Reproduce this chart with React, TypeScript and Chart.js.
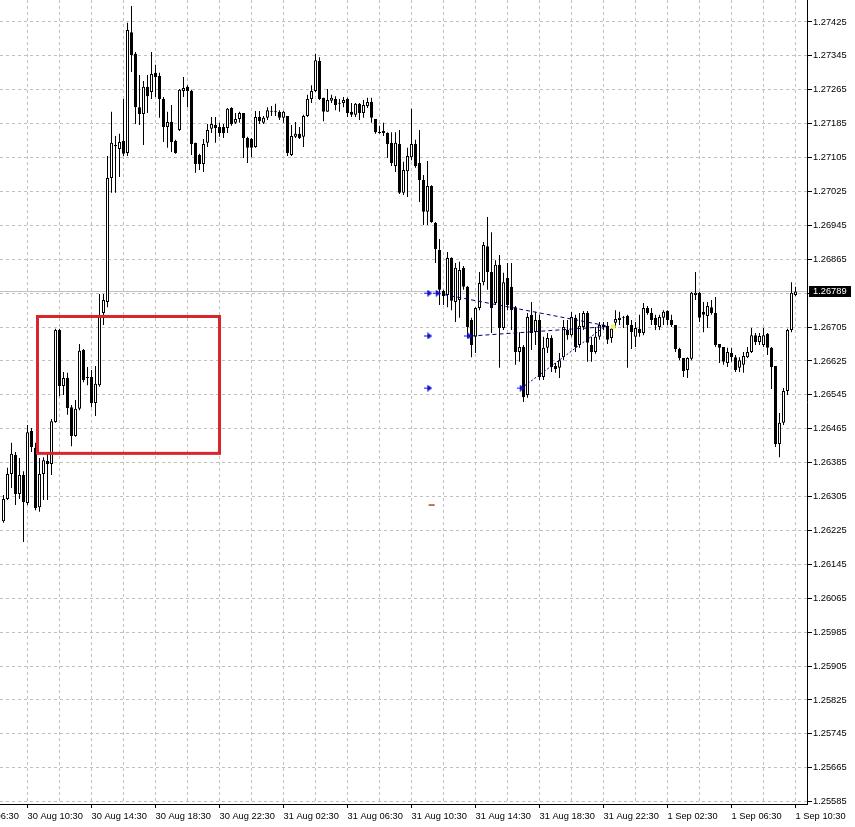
import React, { useEffect, useRef } from "react";
import { Chart, registerables } from "chart.js";

Chart.register(...registerables);

// GBPUSD-style M15 candles. Bar index 0 = 30 Aug 09:00, one bar every 15 minutes.
const OPEN = [
  1.26247, 1.26299, 1.26358, 1.26403, 1.26311, 1.26356, 1.26290, 1.26460, 1.26420, 1.26280,
  1.26358, 1.26389, 1.26382, 1.26481, 1.26698, 1.26566, 1.26585, 1.26516, 1.26448, 1.26512,
  1.26651, 1.26585, 1.26587, 1.26526, 1.26568, 1.26738, 1.26764, 1.27057, 1.27132, 1.27125,
  1.27144, 1.27116, 1.27401, 1.27350, 1.27224, 1.27208, 1.27272, 1.27260, 1.27305, 1.27298,
  1.27243, 1.27177, 1.27189, 1.27144, 1.27170, 1.27262, 1.27272, 1.27262, 1.27140, 1.27111,
  1.27090, 1.27140, 1.27173, 1.27182, 1.27177, 1.27177, 1.27175, 1.27222, 1.27187, 1.27196,
  1.27210, 1.27151, 1.27149, 1.27130, 1.27201, 1.27187, 1.27199, 1.27213, 1.27215, 1.27213,
  1.27199, 1.27203, 1.27111, 1.27154, 1.27161, 1.27154, 1.27203, 1.27243, 1.27262, 1.27333,
  1.27246, 1.27213, 1.27239, 1.27243, 1.27234, 1.27234, 1.27243, 1.27213, 1.27206, 1.27232,
  1.27210, 1.27227, 1.27236, 1.27196, 1.27165, 1.27168, 1.27163, 1.27140, 1.27085, 1.27137,
  1.27022, 1.27073, 1.27106, 1.27137, 1.27092, 1.27052, 1.26977, 1.27038, 1.26951, 1.26887,
  1.26790, 1.26781, 1.26868, 1.26764, 1.26769, 1.26845, 1.26800, 1.26722, 1.26682, 1.26750,
  1.26811, 1.26896, 1.26835, 1.26762, 1.26852, 1.26703, 1.26821, 1.26800, 1.26752, 1.26646,
  1.26658, 1.26545, 1.26734, 1.26693, 1.26722, 1.26587, 1.26656, 1.26679, 1.26613, 1.26609,
  1.26634, 1.26698, 1.26686, 1.26727, 1.26663, 1.26705, 1.26738, 1.26663, 1.26646, 1.26682,
  1.26710, 1.26708, 1.26679, 1.26715, 1.26722, 1.26727, 1.26731, 1.26710, 1.26682, 1.26701,
  1.26691, 1.26750, 1.26738, 1.26727, 1.26705, 1.26727, 1.26743, 1.26722, 1.26710, 1.26653,
  1.26632, 1.26604, 1.26630, 1.26781, 1.26786, 1.26741, 1.26731, 1.26752, 1.26738, 1.26665,
  1.26658, 1.26620, 1.26644, 1.26634, 1.26609, 1.26616, 1.26634, 1.26646, 1.26686, 1.26670,
  1.26663, 1.26689, 1.26656, 1.26613, 1.26429, 1.26479, 1.26554, 1.26698, 1.26781,
];

const HIGH = [
  1.26309, 1.26373, 1.26432, 1.26410, 1.26396, 1.26365, 1.26474, 1.26467, 1.26432, 1.26396,
  1.26398, 1.26408, 1.26488, 1.26701, 1.26701, 1.26599, 1.26597, 1.26521, 1.26533, 1.26665,
  1.26653, 1.26611, 1.26604, 1.26613, 1.26783, 1.26783, 1.27109, 1.27213, 1.27156, 1.27161,
  1.27243, 1.27423, 1.27463, 1.27354, 1.27300, 1.27286, 1.27300, 1.27354, 1.27324, 1.27305,
  1.27248, 1.27213, 1.27229, 1.27147, 1.27267, 1.27295, 1.27276, 1.27265, 1.27140, 1.27114,
  1.27149, 1.27184, 1.27201, 1.27201, 1.27187, 1.27184, 1.27222, 1.27224, 1.27210, 1.27213,
  1.27210, 1.27154, 1.27151, 1.27215, 1.27215, 1.27203, 1.27224, 1.27227, 1.27232, 1.27217,
  1.27215, 1.27203, 1.27182, 1.27189, 1.27177, 1.27206, 1.27253, 1.27276, 1.27350, 1.27342,
  1.27246, 1.27267, 1.27253, 1.27250, 1.27243, 1.27248, 1.27246, 1.27234, 1.27234, 1.27234,
  1.27241, 1.27246, 1.27246, 1.27196, 1.27180, 1.27187, 1.27165, 1.27165, 1.27165, 1.27170,
  1.27095, 1.27128, 1.27220, 1.27147, 1.27170, 1.27064, 1.27097, 1.27040, 1.26953, 1.26913,
  1.26793, 1.26882, 1.26870, 1.26856, 1.26859, 1.26849, 1.26802, 1.26727, 1.26752, 1.26835,
  1.26906, 1.26965, 1.26929, 1.26863, 1.26875, 1.26833, 1.26856, 1.26856, 1.26755, 1.26693,
  1.26663, 1.26738, 1.26764, 1.26741, 1.26734, 1.26682, 1.26691, 1.26686, 1.26620, 1.26644,
  1.26722, 1.26722, 1.26741, 1.26734, 1.26738, 1.26743, 1.26743, 1.26682, 1.26705, 1.26717,
  1.26717, 1.26717, 1.26708, 1.26745, 1.26741, 1.26731, 1.26734, 1.26722, 1.26717, 1.26734,
  1.26762, 1.26755, 1.26750, 1.26734, 1.26734, 1.26745, 1.26745, 1.26734, 1.26710, 1.26656,
  1.26632, 1.26634, 1.26788, 1.26835, 1.26788, 1.26764, 1.26764, 1.26769, 1.26776, 1.26665,
  1.26658, 1.26656, 1.26656, 1.26639, 1.26634, 1.26646, 1.26658, 1.26703, 1.26691, 1.26691,
  1.26703, 1.26691, 1.26658, 1.26613, 1.26502, 1.26561, 1.26701, 1.26811, 1.26800,
];

const LOW = [
  1.26243, 1.26297, 1.26325, 1.26285, 1.26299, 1.26198, 1.26285, 1.26410, 1.26273, 1.26269,
  1.26297, 1.26297, 1.26356, 1.26479, 1.26542, 1.26545, 1.26498, 1.26424, 1.26446, 1.26509,
  1.26575, 1.26568, 1.26516, 1.26495, 1.26564, 1.26710, 1.26752, 1.27022, 1.27022, 1.27059,
  1.27109, 1.27109, 1.27307, 1.27184, 1.27182, 1.27135, 1.27210, 1.27243, 1.27248, 1.27199,
  1.27142, 1.27128, 1.27118, 1.27114, 1.27168, 1.27248, 1.27224, 1.27111, 1.27069, 1.27076,
  1.27071, 1.27130, 1.27163, 1.27140, 1.27154, 1.27151, 1.27163, 1.27180, 1.27184, 1.27187,
  1.27104, 1.27092, 1.27106, 1.27128, 1.27184, 1.27184, 1.27194, 1.27203, 1.27203, 1.27194,
  1.27187, 1.27109, 1.27109, 1.27151, 1.27149, 1.27130, 1.27201, 1.27234, 1.27260, 1.27241,
  1.27191, 1.27213, 1.27234, 1.27217, 1.27213, 1.27224, 1.27201, 1.27201, 1.27201, 1.27194,
  1.27199, 1.27222, 1.27187, 1.27161, 1.27161, 1.27156, 1.27104, 1.27085, 1.27071, 1.27019,
  1.27017, 1.27012, 1.27099, 1.27081, 1.27000, 1.26946, 1.26946, 1.26951, 1.26856, 1.26757,
  1.26757, 1.26752, 1.26745, 1.26717, 1.26727, 1.26793, 1.26679, 1.26634, 1.26644, 1.26745,
  1.26804, 1.26793, 1.26691, 1.26757, 1.26609, 1.26698, 1.26745, 1.26698, 1.26616, 1.26623,
  1.26528, 1.26538, 1.26651, 1.26663, 1.26580, 1.26580, 1.26644, 1.26599, 1.26597, 1.26585,
  1.26627, 1.26675, 1.26682, 1.26646, 1.26656, 1.26698, 1.26623, 1.26623, 1.26642, 1.26675,
  1.26698, 1.26665, 1.26668, 1.26703, 1.26710, 1.26703, 1.26609, 1.26653, 1.26658, 1.26682,
  1.26686, 1.26734, 1.26710, 1.26698, 1.26698, 1.26710, 1.26710, 1.26705, 1.26646, 1.26627,
  1.26587, 1.26585, 1.26627, 1.26769, 1.26717, 1.26693, 1.26703, 1.26734, 1.26658, 1.26620,
  1.26616, 1.26611, 1.26623, 1.26599, 1.26599, 1.26597, 1.26632, 1.26644, 1.26663, 1.26663,
  1.26658, 1.26639, 1.26559, 1.26422, 1.26398, 1.26474, 1.26545, 1.26693, 1.26778,
];

const CLOSE = [
  1.26299, 1.26358, 1.26406, 1.26311, 1.26356, 1.26292, 1.26457, 1.26422, 1.26278, 1.26358,
  1.26391, 1.26382, 1.26483, 1.26698, 1.26566, 1.26585, 1.26514, 1.26448, 1.26512, 1.26649,
  1.26580, 1.26587, 1.26526, 1.26571, 1.26731, 1.26769, 1.27057, 1.27140, 1.27135, 1.27142,
  1.27114, 1.27406, 1.27347, 1.27224, 1.27208, 1.27272, 1.27250, 1.27302, 1.27295, 1.27243,
  1.27177, 1.27189, 1.27142, 1.27116, 1.27265, 1.27269, 1.27262, 1.27137, 1.27090, 1.27090,
  1.27137, 1.27170, 1.27184, 1.27175, 1.27163, 1.27163, 1.27220, 1.27184, 1.27196, 1.27210,
  1.27151, 1.27128, 1.27128, 1.27201, 1.27191, 1.27199, 1.27217, 1.27215, 1.27213, 1.27199,
  1.27213, 1.27116, 1.27156, 1.27161, 1.27151, 1.27203, 1.27243, 1.27262, 1.27335, 1.27243,
  1.27213, 1.27241, 1.27246, 1.27229, 1.27232, 1.27241, 1.27210, 1.27206, 1.27232, 1.27210,
  1.27229, 1.27236, 1.27199, 1.27165, 1.27163, 1.27163, 1.27137, 1.27092, 1.27140, 1.27022,
  1.27076, 1.27109, 1.27137, 1.27085, 1.27052, 1.26977, 1.27038, 1.26953, 1.26889, 1.26793,
  1.26778, 1.26868, 1.26767, 1.26845, 1.26840, 1.26800, 1.26705, 1.26663, 1.26750, 1.26809,
  1.26899, 1.26835, 1.26750, 1.26852, 1.26703, 1.26811, 1.26757, 1.26745, 1.26646, 1.26658,
  1.26540, 1.26729, 1.26691, 1.26722, 1.26587, 1.26656, 1.26679, 1.26611, 1.26606, 1.26627,
  1.26705, 1.26686, 1.26729, 1.26658, 1.26708, 1.26738, 1.26668, 1.26646, 1.26682, 1.26710,
  1.26705, 1.26675, 1.26701, 1.26724, 1.26727, 1.26729, 1.26710, 1.26693, 1.26703, 1.26691,
  1.26750, 1.26738, 1.26722, 1.26710, 1.26729, 1.26741, 1.26722, 1.26710, 1.26653, 1.26632,
  1.26601, 1.26632, 1.26786, 1.26786, 1.26727, 1.26734, 1.26755, 1.26738, 1.26663, 1.26656,
  1.26623, 1.26646, 1.26634, 1.26604, 1.26627, 1.26637, 1.26646, 1.26686, 1.26670, 1.26684,
  1.26686, 1.26656, 1.26611, 1.26429, 1.26479, 1.26554, 1.26698, 1.26786, 1.26789,
];

// time axis: labels every 16 bars (4 h), dashed grid every 8 bars (2 h)
const TIME_LABEL_BARS = [-10, 6, 22, 38, 54, 70, 86, 102, 118, 134, 150, 166, 182, 198];
const TIME_LABELS = [
  "30 Aug 06:30", "30 Aug 10:30", "30 Aug 14:30", "30 Aug 18:30", "30 Aug 22:30",
  "31 Aug 02:30", "31 Aug 06:30", "31 Aug 10:30", "31 Aug 14:30", "31 Aug 18:30",
  "31 Aug 22:30", "1 Sep 02:30", "1 Sep 06:30", "1 Sep 10:30",
];
const GRID_BARS = [
  -10, -2, 6, 14, 22, 30, 38, 46, 54, 62, 70, 78, 86, 94, 102, 110, 118, 126, 134,
  142, 150, 158, 166, 174, 182, 190, 198,
];

const PRICE_TICKS = [
  1.27425, 1.27345, 1.27265, 1.27185, 1.27105, 1.27025, 1.26945, 1.26865, 1.26785,
  1.26705, 1.26625, 1.26545, 1.26465, 1.26385, 1.26305, 1.26225, 1.26145, 1.26065,
  1.25985, 1.25905, 1.25825, 1.25745, 1.25665, 1.25585,
];
const HIDDEN_PRICE_TICK = 1.26785;
const LAST_PRICE = 1.26789;

// chart objects
const RECT_BARS = [8.5, 54];
const RECT_PRICES = [1.2673, 1.26407];
const ARROW_BARS = [106.2, 108.3, 106.2, 116.2, 106.2, 129.3];
const ARROW_PRICES = [1.26785, 1.26785, 1.26684, 1.26684, 1.26561, 1.26561];
const LINE1_BARS = [108.3, 150.8];
const LINE1_PRICES = [1.26785, 1.26708];
const LINE2_BARS = [117.0, 150.8];
const LINE2_PRICES = [1.26684, 1.26706];
const LINE3_BARS = [129.5, 150.4];
const LINE3_PRICES = [1.26561, 1.26707];
const DOT_BARS = [152.45];
const DOT_PRICES = [1.26706];
const DASH_BARS = [106.3, 107.8];
const DASH_PRICES = [1.26285, 1.26285];

const X_MIN = -0.875;
const X_MAX = 200.875;
const Y_MIN = 1.255795;
const Y_MAX = 1.274769;

const FONT = { family: "'Liberation Sans', Arial, sans-serif", size: 9.3 };

function makeArrow(): HTMLCanvasElement {
  const c = document.createElement("canvas");
  c.width = 8;
  c.height = 7;
  const g = c.getContext("2d")!;
  g.fillStyle = "#1414d8";
  g.fillRect(0, 3, 4, 1);
  g.beginPath();
  g.moveTo(3, 0);
  g.lineTo(8, 3.5);
  g.lineTo(3, 7);
  g.closePath();
  g.fill();
  return c;
}

function pts(xs: number[], ys: number[]) {
  return xs.map((x, k) => ({ x, y: ys[k] }));
}

export default function App() {
  const ref = useRef<HTMLCanvasElement>(null);

  useEffect(() => {
    const canvas = ref.current;
    if (!canvas) return;
    const idx = OPEN.map((_, j) => j);
    const bodies = idx.map((j) => ({ x: j, y: [OPEN[j], CLOSE[j]] }));
    const wicks = idx.map((j) => ({ x: j, y: [LOW[j], HIGH[j]] }));
    const bodyFill = idx.map((j) => (CLOSE[j] > OPEN[j] ? "#ffffff" : "#000000"));
    const arrow = makeArrow();

    const overlay = {
      id: "mtOverlay",
      beforeDatasetsDraw(chart: any) {
        const { ctx, chartArea, scales } = chart;
        const y = Math.round(scales.y.getPixelForValue(LAST_PRICE)) + 0.5;
        ctx.save();
        ctx.strokeStyle = "#c0c0c0";
        ctx.lineWidth = 1;
        ctx.beginPath();
        ctx.moveTo(chartArea.left, y);
        ctx.lineTo(chartArea.right, y);
        ctx.stroke();
        ctx.restore();
      },
      afterDatasetsDraw(chart: any) {
        const { ctx, scales } = chart;
        const x0 = scales.x.getPixelForValue(RECT_BARS[0]);
        const x1 = scales.x.getPixelForValue(RECT_BARS[1]);
        const y0 = scales.y.getPixelForValue(RECT_PRICES[0]);
        const y1 = scales.y.getPixelForValue(RECT_PRICES[1]);
        ctx.save();
        ctx.strokeStyle = "#d7262c";
        ctx.lineWidth = 3;
        ctx.strokeRect(x0, y0, x1 - x0, y1 - y0);
        ctx.restore();
      },
      afterDraw(chart: any) {
        const { ctx, chartArea, scales } = chart;
        const y = Math.round(scales.y.getPixelForValue(LAST_PRICE));
        ctx.save();
        ctx.fillStyle = "#000000";
        ctx.fillRect(chartArea.right + 2, y - 5, 42, 11);
        ctx.fillStyle = "#ffffff";
        ctx.font = `${FONT.size}px ${FONT.family}`;
        ctx.textBaseline = "middle";
        ctx.textAlign = "left";
        ctx.fillText(LAST_PRICE.toFixed(5), chartArea.right + 6, y + 0.5);
        ctx.restore();
      },
    };

    const chart = new Chart(canvas, {
      type: "bar",
      data: {
        datasets: [
          {
            type: "bar",
            label: "wick",
            data: wicks as any,
            backgroundColor: "#000000",
            borderWidth: 0,
            barThickness: 1,
            maxBarThickness: 1,
            grouped: false,
            inflateAmount: 0,
            minBarLength: 1,
            order: 3,
          } as any,
          {
            type: "bar",
            label: "body",
            data: bodies as any,
            backgroundColor: bodyFill,
            borderColor: "#000000",
            borderWidth: 1,
            borderSkipped: false,
            barThickness: 3,
            maxBarThickness: 3,
            grouped: false,
            inflateAmount: 0,
            minBarLength: 1,
            order: 2,
          } as any,
          {
            type: "line",
            label: "l1",
            data: pts(LINE1_BARS, LINE1_PRICES),
            borderColor: "#00007a",
            borderWidth: 1,
            borderDash: [4, 3],
            pointRadius: 0,
            fill: false,
            order: 1,
          } as any,
          {
            type: "line",
            label: "l2",
            data: pts(LINE2_BARS, LINE2_PRICES),
            borderColor: "#00007a",
            borderWidth: 1,
            borderDash: [4, 3],
            pointRadius: 0,
            fill: false,
            order: 1,
          } as any,
          {
            type: "line",
            label: "l3",
            data: pts(LINE3_BARS, LINE3_PRICES),
            borderColor: "#00007a",
            borderWidth: 1,
            borderDash: [2, 2],
            pointRadius: 0,
            fill: false,
            order: 1,
          } as any,
          {
            type: "line",
            label: "dash",
            data: pts(DASH_BARS, DASH_PRICES),
            borderColor: "#b8402a",
            borderWidth: 1.5,
            pointRadius: 0,
            fill: false,
            order: 1,
          } as any,
          {
            type: "line",
            label: "arrows",
            data: pts(ARROW_BARS, ARROW_PRICES),
            showLine: false,
            pointStyle: arrow,
            pointRadius: 4,
            order: 0,
          } as any,
          {
            type: "line",
            label: "dot",
            data: pts(DOT_BARS, DOT_PRICES),
            showLine: false,
            pointStyle: "circle",
            pointRadius: 2.5,
            pointBackgroundColor: "#f6f070",
            pointBorderWidth: 0,
            order: 0,
          } as any,
        ],
      },
      options: {
        animation: false,
        responsive: false,
        devicePixelRatio: 1,
        events: [],
        layout: { padding: 0, autoPadding: false },
        plugins: {
          legend: { display: false },
          tooltip: { enabled: false },
          title: { display: false },
        },
        scales: {
          x: {
            type: "linear",
            position: "bottom",
            min: X_MIN,
            max: X_MAX,
            offset: false,
            afterBuildTicks: (s: any) => {
              s.ticks = GRID_BARS.map((v) => ({ value: v }));
            },
            afterFit: (s: any) => {
              s.height = 23;
              s.paddingLeft = 0;
              s.paddingRight = 0;
            },
            grid: {
              display: true,
              offset: false,
              color: "#c0c0c0",
              lineWidth: 1,
              drawTicks: true,
              tickLength: 4,
              tickWidth: 1,
              tickBorderDash: [],
              tickColor: (c: any) =>
                c.tick && TIME_LABEL_BARS.includes(c.tick.value) ? "#000000" : "rgba(0,0,0,0)",
            },
            border: { display: true, color: "#000000", width: 1, dash: [3, 3] },
            ticks: {
              autoSkip: false,
              maxRotation: 0,
              minRotation: 0,
              align: "start",
              padding: 3,
              color: "#000000",
              font: FONT,
              callback: (v: any) => {
                const k = TIME_LABEL_BARS.indexOf(Number(v));
                return k >= 0 ? TIME_LABELS[k] : "";
              },
            },
          } as any,
          y: {
            type: "linear",
            position: "right",
            min: Y_MIN,
            max: Y_MAX,
            afterBuildTicks: (s: any) => {
              s.ticks = PRICE_TICKS.map((v) => ({ value: v }));
            },
            afterFit: (s: any) => {
              s.width = 48;
              s.paddingTop = 0;
              s.paddingBottom = 0;
            },
            grid: {
              display: true,
              color: "#c0c0c0",
              lineWidth: 1,
              drawTicks: true,
              tickLength: 5,
              tickWidth: 1,
              tickBorderDash: [],
              tickColor: "#000000",
            },
            border: { display: true, color: "#000000", width: 1, dash: [3, 3] },
            ticks: {
              autoSkip: false,
              padding: 1,
              color: "#000000",
              font: FONT,
              callback: (v: any) =>
                Number(v) === HIDDEN_PRICE_TICK ? "" : Number(v).toFixed(5),
            },
          } as any,
        },
      } as any,
      plugins: [overlay],
    });

    return () => chart.destroy();
  }, []);

  return (
    <div
      style={{
        position: "absolute",
        left: 0,
        top: 0,
        width: 855,
        height: 827,
        background: "#ffffff",
        overflow: "hidden",
      }}
    >
      <canvas ref={ref} width={855} height={827} style={{ display: "block", width: 855, height: 827 }} />
    </div>
  );
}
